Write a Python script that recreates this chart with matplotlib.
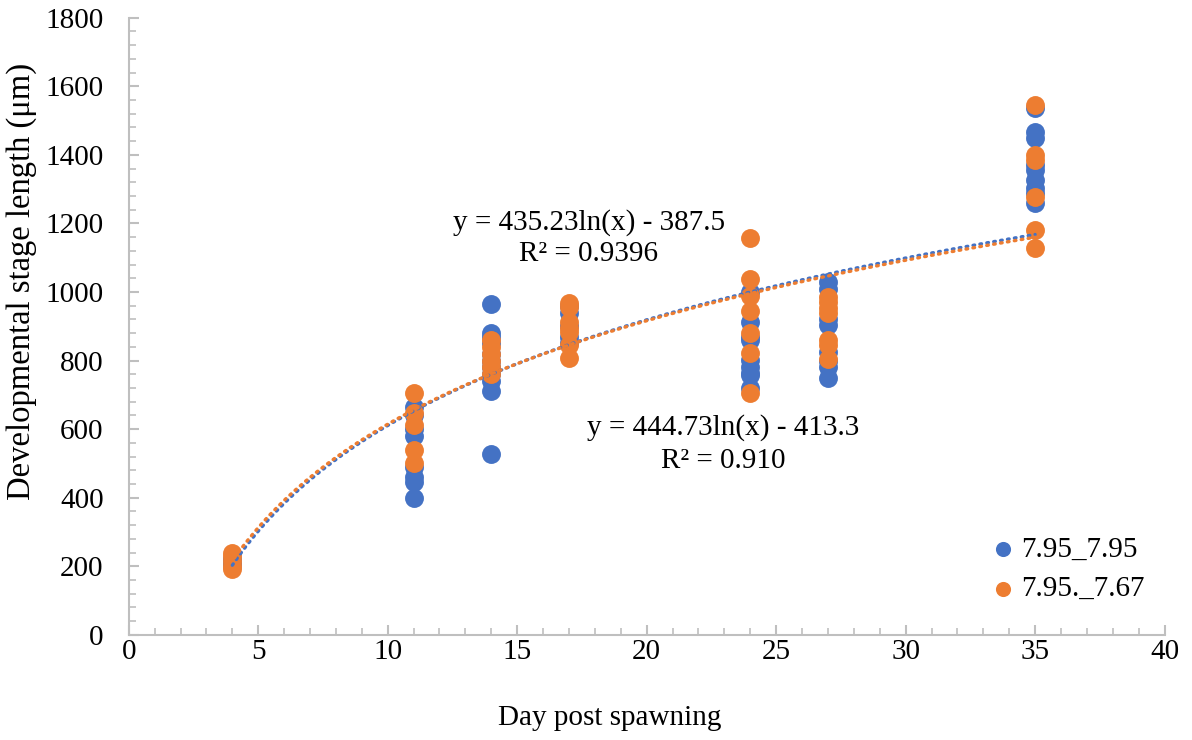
import numpy as np
import matplotlib.pyplot as plt
from matplotlib.ticker import MultipleLocator

plt.rcParams['font.family'] = ['Liberation Serif', 'DejaVu Serif']

days = [4, 11, 14, 17, 24, 27, 35]

blue_vals = {
    4: [222, 201, 210],
    11: [665, 640, 600, 580, 490, 460, 445, 400],
    14: [965, 880, 870, 850, 820, 800, 780, 760, 740, 712, 528],
    17: [960, 939, 900, 869, 850],
    24: [1000, 913, 870, 861, 802, 782, 765, 758, 720],
    27: [1030, 1010, 920, 905, 826, 800, 782, 750],
    35: [1537, 1467, 1450, 1370, 1356, 1327, 1304, 1290, 1260],
}
orange_vals = {
    4: [240, 230, 215, 200, 193],
    11: [706, 648, 613, 540, 500],
    14: [860, 840, 820, 800, 780, 760],
    17: [968, 955, 913, 895, 884, 846, 808],
    24: [1158, 1038, 989, 945, 881, 822, 706],
    27: [986, 970, 954, 940, 861, 845, 805],
    35: [1546, 1400, 1385, 1278, 1181, 1129],
}

# Log trendline coefficients (from the chart labels)
blue_fit = (444.73, -413.3, "0.910")
orange_fit = (435.23, -387.5, "0.9396")

blue_color = '#4472C4'
orange_color = '#ED7D31'
axis_gray = '#BFBFBF'


def flatten(d):
    xs, ys = [], []
    for day in days:
        for v in d[day]:
            xs.append(day)
            ys.append(v)
    return xs, ys


fig = plt.figure(figsize=(11.92, 7.40), dpi=100)
ax = fig.add_axes([0.108, 0.142, 0.869, 0.834])

bx, by = flatten(blue_vals)
ox, oy = flatten(orange_vals)
ax.scatter(bx, by, s=185, color=blue_color, label='7.95_7.95', zorder=3, linewidths=0)
ax.scatter(ox, oy, s=185, color=orange_color, label='7.95._7.67', zorder=4, linewidths=0)

xt = np.linspace(min(days), max(days), 300)
ax.plot(xt, blue_fit[0] * np.log(xt) + blue_fit[1], color=blue_color,
        linestyle=(0, (0.5, 1.6)), linewidth=2.4, dash_capstyle='round', zorder=5)
ax.plot(xt, orange_fit[0] * np.log(xt) + orange_fit[1], color=orange_color,
        linestyle=(1.0, (0.5, 1.6)), linewidth=2.4, dash_capstyle='round', zorder=5)

# trendline labels
ax.text(17.76, 1202, f"y = {orange_fit[0]:.2f}ln(x) - {abs(orange_fit[1])}",
        ha='center', va='center', fontsize=21)
ax.text(17.76, 1111, f"R² = {orange_fit[2]}", ha='center', va='center', fontsize=21)
ax.text(22.97, 604, f"y = {blue_fit[0]:.2f}ln(x) - {abs(blue_fit[1])}",
        ha='center', va='center', fontsize=21)
ax.text(22.97, 508, f"R² = {blue_fit[2]}", ha='center', va='center', fontsize=21)

ax.set_xlim(0, 40)
ax.set_ylim(0, 1800)
ax.xaxis.set_major_locator(MultipleLocator(5))
ax.xaxis.set_minor_locator(MultipleLocator(1))
ax.yaxis.set_major_locator(MultipleLocator(200))
ax.yaxis.set_minor_locator(MultipleLocator(40))

for side in ['top', 'right']:
    ax.spines[side].set_visible(False)
for side in ['left', 'bottom']:
    ax.spines[side].set_color(axis_gray)
    ax.spines[side].set_linewidth(1.5)

ax.tick_params(which='major', direction='in', length=7, width=1.5, color=axis_gray,
               labelsize=21)
ax.tick_params(which='minor', direction='in', length=5, width=1.2, color=axis_gray)
ax.tick_params(axis='x', pad=3)
ax.tick_params(axis='y', pad=18)

ax.set_xlabel("Day post spawning", fontsize=21, va='center')
ax.set_ylabel("Developmental stage length (μm)", fontsize=23.5, va='center')
ax.xaxis.set_label_coords(0.464, -0.135)
ax.yaxis.set_label_coords(-0.103, 0.572)

ax.legend(loc='lower right', bbox_to_anchor=(1.0, 0.02), frameon=False, fontsize=21,
          handletextpad=-0.2, handlelength=1.6, labelspacing=0.45, markerscale=0.8,
          borderaxespad=0.3)

fig.savefig('out.png', dpi=100)
